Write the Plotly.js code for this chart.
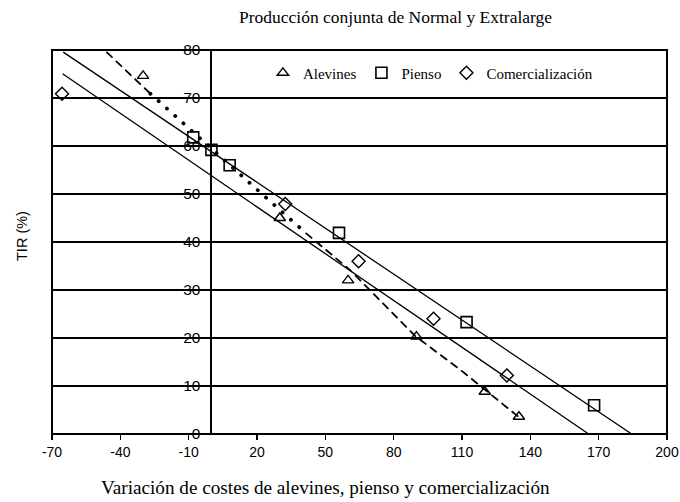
<!DOCTYPE html>
<html>
<head>
<meta charset="utf-8">
<script src="https://cdn.plot.ly/plotly-3.0.1.min.js"></script>
<style>
html,body{margin:0;padding:0;background:#fff;}
#chart{width:680px;height:502px;}
path.js-line{stroke-linecap:round;}
</style>
</head>
<body>
<div id="chart"></div>
<script>
// Data
var alevinesX = [-30, 30, 60, 90, 120, 135];
var alevinesY = [74.6, 45, 32, 20.3, 8.8, 3.6];

var piensoX = [-8, 0, 8, 56, 112, 168];
var piensoY = [61.8, 59.2, 56, 41.9, 23.3, 6];

var comercX = [-65.6, 32.4, 64.6, 97.5, 129.7];
var comercY = [70.9, 47.9, 36, 24, 12.2];

// trend lines
var fitUpperX = [-64.9, 184.5];
var fitUpperY = [79.5, 0];
var fitLowerX = [-65.2, 165.6];
var fitLowerY = [75, 0];
var fitDashX = [-45.9, -26.8, null, 41.6, 61, 89.5, 110, 135];
var fitDashY = [79.5, 70.9, null, 41.8, 34.1, 20.4, 13.1, 3.5];
var fitDotX = [-26.8, -2.7, 22.2, 41.6];
var fitDotY = [70.9, 60.5, 50.0, 41.8];

var xTicks = [-70, -40, -10, 20, 50, 80, 110, 140, 170, 200];
var yTicks = [0, 10, 20, 30, 40, 50, 60, 70, 80];

var black = '#000';
var serif = 'Liberation Serif, Times New Roman, serif';
var sans = 'Liberation Sans, Arial, sans-serif';

var traces = [
  {x: fitUpperX, y: fitUpperY, mode: 'lines', line: {color: black, width: 1.3}, showlegend: false, hoverinfo: 'skip'},
  {x: fitLowerX, y: fitLowerY, mode: 'lines', line: {color: black, width: 1.3}, showlegend: false, hoverinfo: 'skip'},
  {x: fitDashX, y: fitDashY, mode: 'lines', connectgaps: false, line: {color: black, width: 1.8, dash: '7px,6px'}, showlegend: false, hoverinfo: 'skip'},
  {x: fitDotX, y: fitDotY, mode: 'lines', line: {color: black, width: 3.8, dash: '0.1px,11px'}, showlegend: false, hoverinfo: 'skip'},
  {x: alevinesX, y: alevinesY, name: 'Alevines', mode: 'markers',
   marker: {symbol: 'triangle-up-open', size: 10, color: black, line: {width: 1.4, color: black}}},
  {x: piensoX, y: piensoY, name: 'Pienso', mode: 'markers',
   marker: {symbol: 'square-open', size: 11, color: black, line: {width: 1.6, color: black}}},
  {x: comercX, y: comercY, name: 'Comercialización', mode: 'markers',
   marker: {symbol: 'diamond-open', size: 10, color: black, line: {width: 1.4, color: black}}}
];

var layout = {
  width: 680, height: 502,
  margin: {l: 52, r: 13, t: 50, b: 68},
  paper_bgcolor: '#fff', plot_bgcolor: '#fff',
  showlegend: true,
  legend: {orientation: 'h', x: 0.343, xanchor: 'left', y: 0.94, yanchor: 'middle',
    font: {family: serif, size: 15, color: black}, bgcolor: 'rgba(0,0,0,0)', itemclick: false},
  xaxis: {range: [-70, 200], tickvals: xTicks, ticktext: xTicks.map(String),
    ticks: 'outside', ticklen: 5, tickwidth: 1.5, tickcolor: black,
    showgrid: false, zeroline: true, zerolinecolor: black, zerolinewidth: 2,
    showline: false, tickfont: {family: sans, size: 14, color: black}},
  yaxis: {range: [0, 80], tickvals: yTicks, ticktext: yTicks.map(String),
    anchor: 'free', position: 70 / 270, ticks: '', ticklabelstandoff: 11,
    showgrid: true, gridcolor: black, gridwidth: 2, zeroline: false, showline: false,
    tickfont: {family: sans, size: 15.5, color: black}},
  shapes: [{type: 'rect', xref: 'paper', yref: 'paper', x0: 0, x1: 1, y0: 0, y1: 1,
    line: {color: black, width: 2}, fillcolor: 'rgba(0,0,0,0)', layer: 'above'}],
  annotations: [
    {text: 'Producción conjunta de Normal y Extralarge', xref: 'paper', yref: 'paper',
     x: (395 - 52) / 615, y: 1, yshift: 33, xanchor: 'center', yanchor: 'middle', showarrow: false,
     font: {family: serif, size: 17.5, color: black}},
    {text: 'Variación de costes de alevines, pienso y comercialización', xref: 'paper', yref: 'paper',
     x: (325 - 52) / 615, y: 0, yshift: -53, xanchor: 'center', yanchor: 'middle', showarrow: false,
     font: {family: serif, size: 19.2, color: black}},
    {text: 'TIR (%)', xref: 'paper', yref: 'paper', x: 0, xshift: -30, y: (434 - 236) / 384,
     xanchor: 'center', yanchor: 'middle', textangle: -90, showarrow: false,
     font: {family: sans, size: 14.5, color: black}}
  ]
};

Plotly.newPlot('chart', traces, layout, {staticPlot: true, displayModeBar: false});
</script>
</body>
</html>
